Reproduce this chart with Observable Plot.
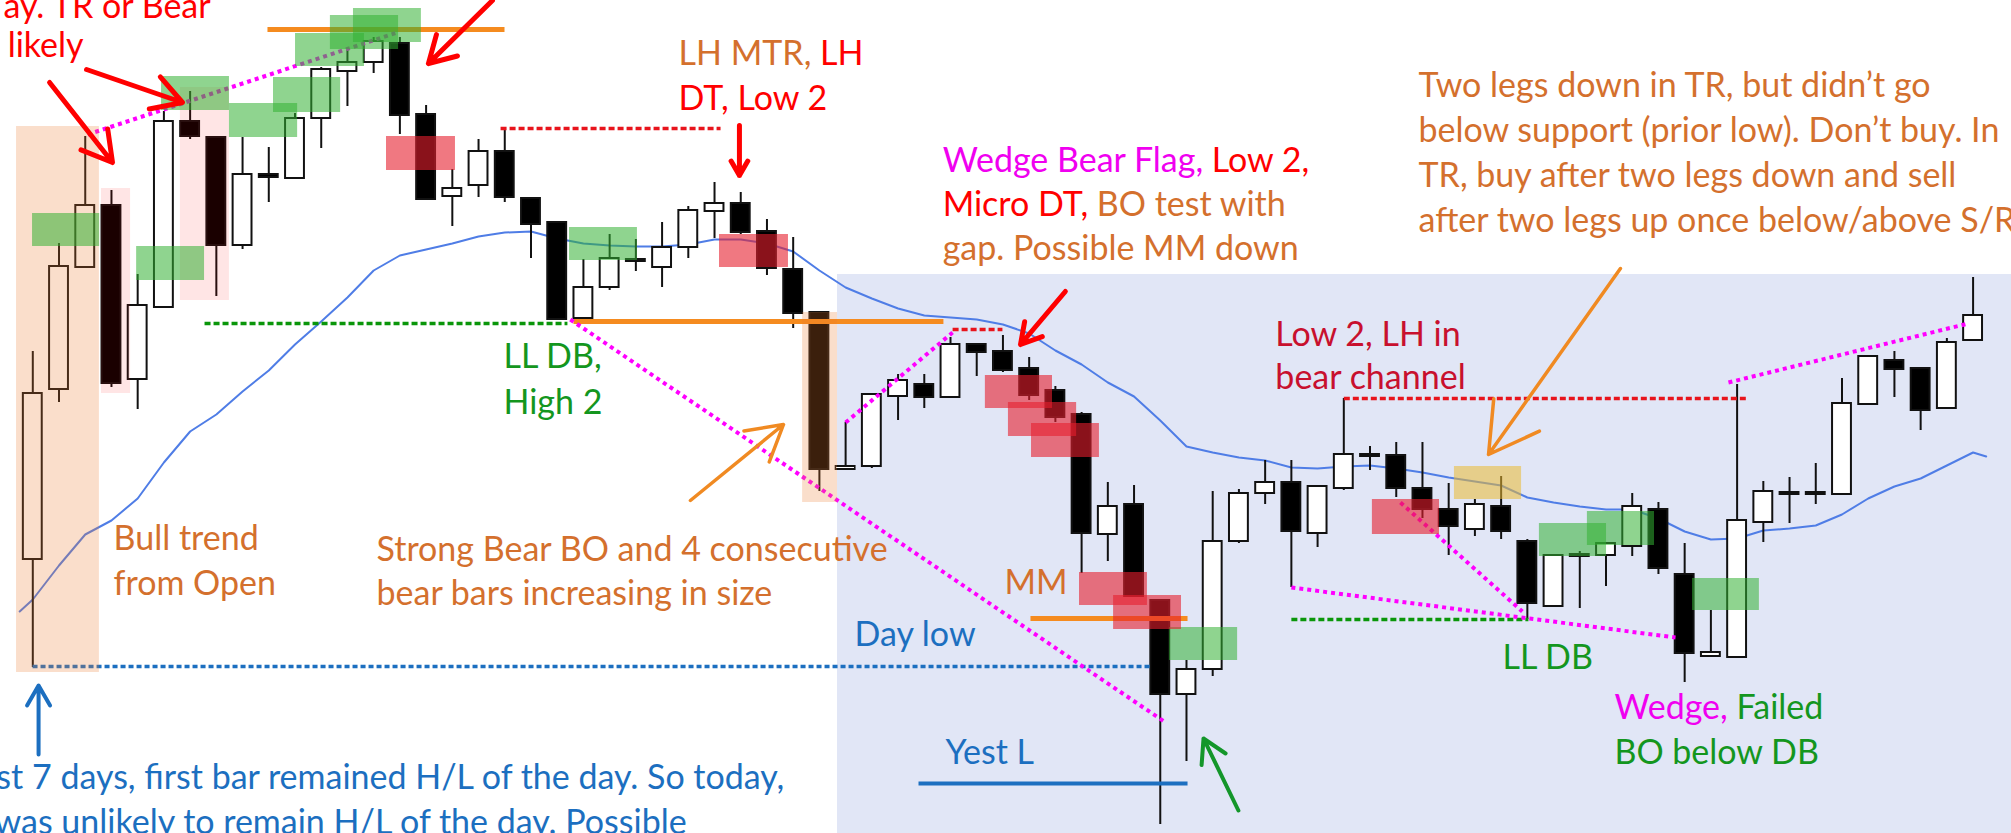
<!DOCTYPE html>
<html>
<head>
<meta charset="utf-8">
<script src="https://cdn.jsdelivr.net/npm/d3@7"></script>
<script src="https://cdn.jsdelivr.net/npm/@observablehq/plot@0.6"></script>
<style>
  html, body { margin: 0; padding: 0; background: white; overflow: hidden; }
  #chart svg { display: block; }
</style>
</head>
<body>
<div id="chart"></div>
<script>
// ---- Candles (bar index = position in arrays), price levels ----
const open  = [274,444,566,628,454,526,712,696,588,659,655,715,762,771,790,719,637,648,682,635,611,515,546,574,566,586,622,630,602,564,521,364,367,437,449,436,489,482,465,443,419,299,329,233,139,164,292,340,351,300,345,379,378,345,324,304,327,292,227,279,278,287,324,259,177,176,311,341,341,339,429,473,465,425,493];
const high  = [482,590,697,643,559,722,742,696,696,686,720,766,783,796,796,728,664,694,704,635,611,574,599,594,611,627,651,641,614,596,521,411,439,459,459,496,489,498,476,447,421,351,348,233,173,342,344,373,373,347,435,387,391,391,350,334,357,294,278,282,291,340,331,290,223,449,352,356,370,455,477,482,466,495,556];
const low   = [166,431,566,446,424,525,694,537,584,631,655,685,727,760,699,634,607,636,631,575,514,515,543,562,546,575,595,599,558,505,342,364,365,413,425,436,457,461,433,411,260,272,237,9,72,157,290,329,246,286,343,363,336,315,278,297,294,214,227,225,247,277,259,151,177,176,291,310,329,339,429,436,403,425,493];
const close = [440,567,628,450,528,712,697,588,659,656,715,764,771,792,718,634,645,682,636,609,514,546,575,572,586,623,630,601,565,520,364,367,439,453,436,489,481,463,438,416,300,327,237,139,164,292,340,351,302,347,379,377,345,324,307,329,302,230,278,277,290,327,265,180,181,313,342,339,339,430,477,464,423,491,518];

// ---- 20-bar EMA ----
const emaIndex = [-0.5, ...d3.range(75), 74.5];
const emaValue = [222,234,268,299,313,335,371,402,419,442,463,489,512,536,563,578,584,590,597,601,602,595,590,588,587,587,589,594,594,590,582,563,546,535,525,518,516,514,509,500,483,469,451,437,413,387,381,376,373,366,365,367,368,365,361,356,352,348,336,331,327,324,324,315,302,294,295,303,305,308,319,335,347,355,368,381,377];

// ---- Shaded zones: [x1, x2, y1, y2] in bar index / price level ----
const blueZone = [[30.69, 75.47, 0, 559]];
const tanZones = [[-0.62, 2.54, 161, 707], [29.36, 30.69, 331, 521]];
const pinkZones = [[2.62, 3.73, 440, 645], [5.63, 7.50, 533, 746]];
const greenZones = [
  [-0.01, 2.55, 587, 620], [3.96, 6.55, 553, 587], [4.91, 7.50, 723, 757], [7.50, 10.10, 696, 730],
  [9.18, 11.74, 721, 756], [10.02, 12.65, 767, 800], [11.35, 13.95, 784, 818], [12.23, 14.82, 791, 825],
  [20.47, 23.06, 573, 606], [43.35, 45.95, 173, 206], [57.46, 60.02, 277, 310], [59.29, 61.85, 288, 322],
  [63.30, 65.85, 223, 255]
];
const redZones = [
  [13.49, 16.12, 663, 697], [26.19, 28.82, 566, 599], [36.33, 38.89, 425, 458], [37.21, 39.81, 397, 431],
  [38.09, 40.68, 376, 410], [39.92, 42.51, 228, 261], [41.22, 43.81, 204, 238], [51.09, 53.65, 299, 334]
];
const goldZones = [[54.22, 56.78, 334, 367]];

// ---- Lines: [x1, y1, x2, y2] ----
const orangeLevels = [[8.95, 804, 17.99, 804], [20.62, 512, 34.73, 512], [38.05, 215, 44.04, 215]];
const yesterdayLow = [[33.78, 50, 44.04, 50]];
const dayLow = [[-0.01, 167, 42.63, 167]];
const greenSupport = [[6.55, 510, 20.39, 510], [48.0, 214, 57.04, 214]];
const redResistance = [[17.84, 705, 26.23, 705], [35.08, 504, 36.98, 504], [50.0, 435, 65.4, 435]];
const wedgeLines = [
  [2.09, 699, 13.91, 801], [20.5, 514, 43.2, 111], [31.0, 411, 35.08, 501],
  [48.0, 246, 62.65, 196], [52.16, 331, 56.81, 222], [64.67, 451, 73.82, 510]
];

// ---- Arrows: [x1, y1, x2, y2] (head at second point) ----
const redArrows = [[0.64, 751, 3.04, 671], [2.05, 764, 5.71, 731], [17.53, 833, 15.09, 770], [26.95, 708, 26.95, 658], [39.38, 542, 37.67, 489]];
const orangeArrows = [[25.08, 333, 28.63, 409], [60.55, 565, 55.52, 379]];
const greenArrows = [[45.98, 23, 44.65, 95]];
const blueArrows = [[0.22, 79, 0.22, 148]];

// ---- Annotation text ----
const ORANGE = "#D4702D", RED = "#FF0000", DRED = "#C8102E", GREEN = "#14961E", BLUE = "#1C6FC0", MAG = "#F000F0";
const notes = [
  {x: -1.12, y: 826, parts: [["ay. TR or Bear", RED]]},
  {x: -0.96, y: 787, parts: [["likely", RED]]},
  {x: 24.63, y: 779, parts: [["LH MTR,", ORANGE], [" LH", RED]]},
  {x: 24.63, y: 734, parts: [["DT, Low 2", RED]]},
  {x: 34.70, y: 672, parts: [["Wedge Bear Flag,", MAG], [" Low 2,", RED]]},
  {x: 34.70, y: 628, parts: [["Micro DT,", RED], [" BO test with", ORANGE]]},
  {x: 34.70, y: 584, parts: [["gap. Possible MM down", ORANGE]]},
  {x: 52.85, y: 747, parts: [["Two legs down in TR, but didn\u2019t go", ORANGE]]},
  {x: 52.85, y: 702, parts: [["below support (prior low). Don\u2019t buy. In", ORANGE]]},
  {x: 52.85, y: 657, parts: [["TR, buy after two legs down and sell", ORANGE]]},
  {x: 52.85, y: 612, parts: [["after two legs up once below/above S/R", ORANGE]]},
  {x: 47.39, y: 498, parts: [["Low 2, LH in", DRED]]},
  {x: 47.39, y: 455, parts: [["bear channel", DRED]]},
  {x: 17.95, y: 476, parts: [["LL DB,", GREEN]]},
  {x: 17.95, y: 430, parts: [["High 2", GREEN]]},
  {x: 13.11, y: 283, parts: [["Strong Bear BO and 4 consecutive", ORANGE]]},
  {x: 13.11, y: 239, parts: [["bear bars increasing in size", ORANGE]]},
  {x: 3.08, y: 294, parts: [["Bull trend", ORANGE]]},
  {x: 3.08, y: 249, parts: [["from Open", ORANGE]]},
  {x: 37.06, y: 250, parts: [["MM", ORANGE]]},
  {x: 31.34, y: 198, parts: [["Day low", BLUE]]},
  {x: 34.81, y: 80, parts: [["Yest L", BLUE]]},
  {x: 56.05, y: 175, parts: [["LL DB", GREEN]]},
  {x: 60.32, y: 125, parts: [["Wedge,", MAG], [" Failed", GREEN]]},
  {x: 60.32, y: 80, parts: [["BO below DB", GREEN]]},
  {x: -1.39, y: 55, parts: [["st 7 days, first bar remained H/L of the day. So today,", BLUE]]},
  {x: -1.46, y: 10, parts: [["was unlikely to remain H/L of the day. Possible", BLUE]]}
];

// ---- Build tables ----
const candles = open.map((o, i) => ({i, open: o, high: high[i], low: low[i], close: close[i]}));
const ema = emaIndex.map((i, k) => ({i, v: emaValue[k]}));
const box = a => a.map(([x1, x2, y1, y2]) => ({x1, x2, y1, y2}));
const seg = a => a.map(([x1, y1, x2, y2]) => ({x1, y1, x2, y2}));
const seg4 = {x1: "x1", y1: "y1", x2: "x2", y2: "y2"};
const rect4 = {x1: "x1", x2: "x2", y1: "y1", y2: "y2"};
const HW = 0.36;

const svg = Plot.plot({
  width: 2011,
  height: 833,
  margin: 0,
  x: {domain: [-1.2319, 75.465], axis: null},
  y: {domain: [0, 833], axis: null},
  color: {type: "identity"},
  style: {background: "white", fontFamily: "Lato, sans-serif"},
  marks: [
    Plot.rect(box(blueZone), {...rect4, fill: "#E1E6F6"}),
    Plot.line(ema, {x: "i", y: "v", stroke: "#4F7DE6", strokeWidth: 2}),
    Plot.ruleX(candles, {x: "i", y1: "low", y2: "high", stroke: "#111", strokeWidth: 2}),
    Plot.rect(candles, {x1: d => d.i - HW, x2: d => d.i + HW, y1: "open", y2: "close",
      fill: d => d.close < d.open ? "#000" : "#fff", stroke: "#111", strokeWidth: 2}),
    Plot.link(seg(orangeLevels), {...seg4, stroke: "#F58B1F", strokeWidth: 5}),
    Plot.link(seg(yesterdayLow), {...seg4, stroke: "#1C6FC0", strokeWidth: 4}),
    Plot.link(seg(dayLow), {...seg4, stroke: "#1C6FC0", strokeWidth: 3.5, strokeDasharray: "5,3"}),
    Plot.link(seg(greenSupport), {...seg4, stroke: "#0A960A", strokeWidth: 3.5, strokeDasharray: "6,3"}),
    Plot.link(seg(redResistance), {...seg4, stroke: "#E8141C", strokeWidth: 3.5, strokeDasharray: "6,3"}),
    Plot.link(seg(wedgeLines), {...seg4, stroke: "#FF00FF", strokeWidth: 4, strokeDasharray: "4,4"}),
    Plot.rect(box(tanZones), {...rect4, fill: "#ED7D31", fillOpacity: 0.25}),
    Plot.rect(box(pinkZones), {...rect4, fill: "#FF0000", fillOpacity: 0.1}),
    Plot.rect(box(greenZones), {...rect4, fill: "#33B033", fillOpacity: 0.55}),
    Plot.rect(box(redZones), {...rect4, fill: "#E61E2D", fillOpacity: 0.6}),
    Plot.rect(box(goldZones), {...rect4, fill: "#EBB932", fillOpacity: 0.55}),
    Plot.arrow(seg(redArrows), {...seg4, stroke: "#FF0000", strokeWidth: 5, headLength: 24}),
    Plot.arrow(seg(orangeArrows), {...seg4, stroke: "#F08A22", strokeWidth: 3.5, headLength: 24}),
    Plot.arrow(seg(greenArrows), {...seg4, stroke: "#14962A", strokeWidth: 4, headLength: 24}),
    Plot.arrow(seg(blueArrows), {...seg4, stroke: "#1C6FC0", strokeWidth: 4, headLength: 22}),
    Plot.text(notes, {x: "x", y: "y", text: d => d.parts.map(p => p[0]).join(""),
      fill: d => d.parts[0][1], textAnchor: "start", lineAnchor: "middle",
      fontSize: 34, fontFamily: "Lato, sans-serif"})
  ]
});

// colour the multi-coloured annotation lines segment by segment
const multi = new Map(notes.filter(n => n.parts.length > 1).map(n => [n.parts.map(p => p[0]).join(""), n.parts]));
svg.querySelectorAll("text").forEach(t => {
  const parts = multi.get(t.textContent);
  if (!parts) return;
  t.textContent = "";
  for (const [s, c] of parts) {
    const ts = document.createElementNS("http://www.w3.org/2000/svg", "tspan");
    ts.setAttribute("fill", c);
    ts.textContent = s;
    t.appendChild(ts);
  }
});

document.getElementById("chart").appendChild(svg);
</script>
</body>
</html>
